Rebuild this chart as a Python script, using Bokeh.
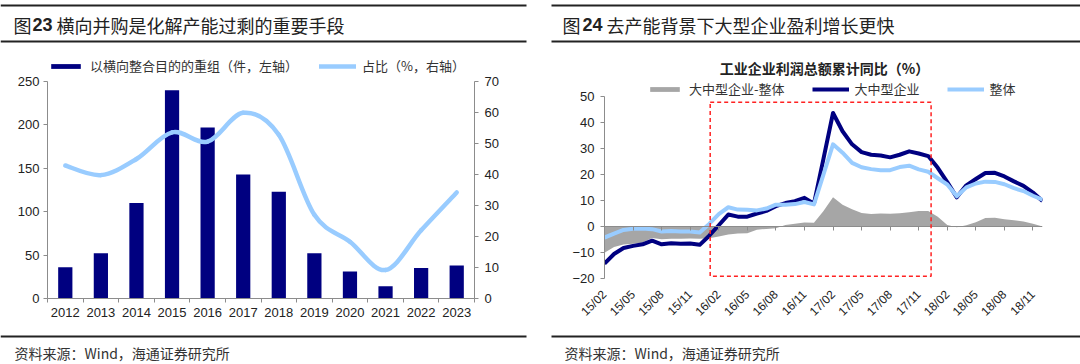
import math
from bokeh.plotting import figure
from bokeh.models import (Range1d, LinearAxis, FixedTicker, Legend, LegendItem,
                          Label, BoxAnnotation)
from bokeh.layouts import row, column
from bokeh.core.properties import value
from bokeh.embed import file_html
from bokeh.resources import INLINE

# ---------------- data: left chart (图23) ----------------
years = ["2012", "2013", "2014", "2015", "2016", "2017",
         "2018", "2019", "2020", "2021", "2022", "2023"]
deals = [36, 52, 110, 240, 197, 143, 123, 52, 31, 14, 35, 38]          # 件, left axis
share = [42.9, 39.8, 45.0, 53.6, 50.6, 59.9, 52.8, 27.0, 18.3, 9.2, 22.0, 34.2]  # %, right axis

# ---------------- data: right chart (图24) ----------------
months = ["15/02", "15/03", "15/04", "15/05", "15/06", "15/07", "15/08", "15/09", "15/10", "15/11", "15/12",
          "16/01", "16/02", "16/03", "16/04", "16/05", "16/06", "16/07", "16/08", "16/09", "16/10", "16/11", "16/12",
          "17/01", "17/02", "17/03", "17/04", "17/05", "17/06", "17/07", "17/08", "17/09", "17/10", "17/11", "17/12",
          "18/01", "18/02", "18/03", "18/04", "18/05", "18/06", "18/07", "18/08", "18/09", "18/10", "18/11", "18/12"]
large_mid = [-14.2, -10.5, -8.2, -7.4, -6.8, -5.4, -6.8, -6.4, -6.6, -6.5, -7.0,
             -3.5, 0.5, 4.6, 3.8, 3.8, 5.0, 6.0, 7.8, 9.0, 9.7, 11.0, 8.8,
             26.0, 43.5, 36.5, 31.5, 28.5, 27.5, 27.2, 26.5, 27.5, 28.8, 28.0, 27.0,
             22.5, 17.0, 11.2, 15.8, 18.2, 20.5, 20.6, 19.2, 17.3, 15.6, 13.0, 9.8]
overall = [-4.2, -2.7, -1.3, -0.8, -0.7, -1.0, -1.9, -1.7, -1.9, -1.9, -2.3,
           1.0, 4.8, 7.4, 6.5, 6.4, 6.2, 6.9, 8.4, 8.4, 8.6, 9.4, 8.5,
           20.0, 31.5, 28.3, 24.4, 22.7, 22.0, 21.6, 21.6, 22.8, 23.3, 21.9, 21.0,
           18.5, 16.1, 11.6, 15.0, 16.5, 17.2, 17.1, 16.2, 14.7, 13.6, 11.8, 10.3]
gap = [-10.0, -7.8, -6.9, -6.6, -6.1, -4.4, -4.9, -4.7, -4.7, -4.6, -4.7,
       -4.5, -3.8, -3.0, -2.7, -2.6, -1.2, -0.9, -0.6, 0.6, 1.1, 1.6, 1.5,
       6.0, 11.2, 8.4, 6.6, 5.2, 4.8, 5.0, 4.9, 5.1, 5.5, 6.0, 6.0,
       3.8, 0.6, -0.3, 0.5, 1.7, 3.3, 3.4, 2.8, 2.4, 1.9, 1.1, 0.0]
highlight = ("16/01", "17/12")

# ---------------- texts ----------------
title_l = ("图", "23", "横向并购是化解产能过剩的重要手段")
title_r = ("图", "24", "去产能背景下大型企业盈利增长更快")
chart_title_r = "工业企业利润总额累计同比（%）"
source = "资料来源：Wind，海通证券研究所"

CJK = "Noto Sans CJK SC"
LAT = "Liberation Sans"
NAVY = "#000080"
LIGHT = "#99CCFF"
GRAY = "#A6A6A6"
AXC = "#8C8C8C"
TXT = "#222222"

# layout geometry (pixels)
CH_H = 284          # chart row height
B_TOP, B_BOT = 4, 32
FRAME_H = CH_H - B_TOP - B_BOT   # 248


def style_axis(ax):
    ax.axis_line_color = AXC
    ax.major_tick_line_color = AXC
    ax.major_tick_out = 4
    ax.major_tick_in = 0
    ax.minor_tick_line_color = None
    ax.major_label_text_font = LAT
    ax.major_label_text_font_size = "13px"
    ax.major_label_text_color = TXT


def legend(items, loc, spacing):
    return Legend(items=items, location=loc, orientation="horizontal", glyph_width=37, glyph_height=6,
                  label_standoff=6, spacing=spacing, padding=0, margin=0, label_height=14,
                  border_line_color=None, background_fill_alpha=0,
                  label_text_font=CJK, label_text_font_size="13px", label_text_color="#333333")


# ================= header =================
hdr = figure(width=1080, height=46, x_range=Range1d(0, 1080), y_range=Range1d(46, 0),
             x_axis_location=None, y_axis_location=None, output_backend="svg",
             toolbar_location=None, min_border=0)
hdr.grid.visible = False
hdr.outline_line_color = None
hdr.segment(x0=[0, 551, 0, 551], x1=[526, 1080, 526, 1080], y0=[5, 5, 41, 41], y1=[5, 5, 41, 41],
            line_width=2, line_color="#222222")
hdr.text(x=[13, 562], y=[24, 24], text=[title_l[0], title_r[0]], text_font=value(CJK),
         text_font_size="18px", text_baseline="middle", text_color=TXT)
hdr.text(x=[32, 582], y=[24, 24], text=[title_l[1], title_r[1]], text_font=value(LAT),
         text_font_style="bold", text_font_size="18px", text_baseline="middle", text_color=TXT)
hdr.text(x=[56, 606], y=[24, 24], text=[title_l[2], title_r[2]], text_font=value(CJK),
         text_font_size="18px", text_baseline="middle", text_color=TXT)

# ================= left chart =================
centers = list(range(1, len(years) + 1))
bounds = [c - 0.5 for c in centers] + [centers[-1] + 0.5]
cnt_max, pct_max = 250, 70
plot_h_l = 217                       # pixels between 0 and 250 on the value axis
top_l = cnt_max * FRAME_H / plot_h_l  # range top so that the legend sits inside the frame

pl = figure(width=540, height=CH_H, x_range=Range1d(bounds[0], bounds[-1]), y_range=Range1d(0, top_l),
            output_backend="svg", toolbar_location=None,
            min_border_left=47, min_border_right=66, min_border_top=B_TOP, min_border_bottom=B_BOT)
pl.extra_y_ranges = {"pct": Range1d(0, pct_max * top_l / cnt_max)}
pl.grid.visible = False
pl.outline_line_color = None

bars = pl.vbar(x=centers, top=deals, width=0.4, fill_color=NAVY, line_color=None)

# smooth (Excel-like) line as cubic Bezier segments through the data points
bx0, by0, bx1, by1, bcx0, bcy0, bcx1, bcy1 = [], [], [], [], [], [], [], []
n = len(centers)
for i in range(n - 1):
    xp, yp = (centers[i - 1], share[i - 1]) if i > 0 else (centers[i], share[i])
    xn, yn = (centers[i + 2], share[i + 2]) if i + 2 < n else (centers[i + 1], share[i + 1])
    bx0.append(centers[i]); by0.append(share[i])
    bx1.append(centers[i + 1]); by1.append(share[i + 1])
    bcx0.append(centers[i] + (centers[i + 1] - xp) / 6); bcy0.append(share[i] + (share[i + 1] - yp) / 6)
    bcx1.append(centers[i + 1] - (xn - centers[i]) / 6); bcy1.append(share[i + 1] - (yn - share[i]) / 6)
curve = pl.bezier(x0=bx0, y0=by0, x1=bx1, y1=by1, cx0=bcx0, cy0=bcy0, cx1=bcx1, cy1=bcy1,
                  line_color=LIGHT, line_width=4.5, line_cap="round", y_range_name="pct")

pl.xaxis.ticker = FixedTicker(ticks=centers, minor_ticks=bounds)
pl.xaxis.major_label_overrides = {c: y for c, y in zip(centers, years)}
style_axis(pl.xaxis[0])
pl.xaxis.major_tick_line_color = None
pl.xaxis.minor_tick_line_color = AXC
pl.xaxis.minor_tick_out = 4
pl.xaxis.minor_tick_in = 0
pl.xaxis.major_label_standoff = 5

pl.yaxis.ticker = FixedTicker(ticks=[0, 50, 100, 150, 200, 250])
pl.yaxis.bounds = (0, cnt_max)
style_axis(pl.yaxis[0])
pl.yaxis.major_label_standoff = 4

ax_r = LinearAxis(y_range_name="pct", ticker=FixedTicker(ticks=[0, 10, 20, 30, 40, 50, 60, 70]),
                  bounds=(0, pct_max))
style_axis(ax_r)
ax_r.major_label_standoff = 6
pl.add_layout(ax_r, "right")

pl.add_layout(legend([LegendItem(label="以横向整合目的的重组（件，左轴）", renderers=[bars]),
                      LegendItem(label="占比（%，右轴）", renderers=[curve])],
                     (0, 223), 21), "center")

# ================= right chart =================
idx = list(range(len(months)))
tick_idx = idx[::3]
y_lo, y_hi = -20, 50
px_per_unit = 182.8 / (y_hi - y_lo)
below_px = 19.7                                   # frame pixels below -20
r_lo = y_lo - below_px / px_per_unit
r_hi = r_lo + FRAME_H / px_per_unit

pr = figure(width=540, height=CH_H, x_range=Range1d(idx[0], idx[-1]), y_range=Range1d(r_lo, r_hi),
            output_backend="svg", toolbar_location=None,
            min_border_left=64, min_border_right=38, min_border_top=B_TOP, min_border_bottom=B_BOT)
pr.grid.visible = False
pr.outline_line_color = None

area = pr.varea(x=idx, y1=0, y2=gap, fill_color=GRAY)
dark = pr.line(x=idx, y=large_mid, line_color=NAVY, line_width=4, line_join="round")
light = pr.line(x=idx, y=overall, line_color=LIGHT, line_width=4, line_join="round")

pr.add_layout(BoxAnnotation(left=months.index(highlight[0]) + 0.1, right=months.index(highlight[1]) + 0.3,
                            top=47.6, bottom=-19.0, fill_color=None, fill_alpha=0,
                            line_color="#FF2222", line_alpha=1.0, line_width=1.5, line_dash="4 3"))

# month labels: hang just below the -20 line (pulled up into the frame area)
pr.xaxis.ticker = FixedTicker(ticks=tick_idx)
pr.xaxis.major_label_overrides = {i: months[i] for i in tick_idx}
pr.xaxis.major_label_orientation = math.pi / 4
pr.xaxis.axis_line_color = None
pr.xaxis.major_tick_line_color = None
pr.xaxis.minor_tick_line_color = None
pr.xaxis.major_tick_out = 0
pr.xaxis.major_tick_in = 0
pr.xaxis.major_label_standoff = -6
pr.xaxis.major_label_text_font = LAT
pr.xaxis.major_label_text_font_size = "12px"
pr.xaxis.major_label_text_color = TXT

zero_ax = LinearAxis(fixed_location=0, ticker=FixedTicker(ticks=tick_idx),
                     major_label_overrides={i: "" for i in tick_idx},
                     major_label_text_font_size="1px", major_label_text_alpha=0,
                     axis_line_color=AXC, major_tick_line_color=AXC,
                     major_tick_in=4, major_tick_out=0, minor_tick_line_color=None)
pr.add_layout(zero_ax, "above")

pr.yaxis.ticker = FixedTicker(ticks=list(range(y_lo, y_hi + 1, 10)))
pr.yaxis.bounds = (y_lo, y_hi)
style_axis(pr.yaxis[0])
pr.yaxis.major_label_standoff = 6

pr.add_layout(Label(x=220, y=231, x_units="screen", y_units="screen", text=chart_title_r,
                    text_align="center", text_baseline="middle", text_font=CJK,
                    text_font_size="14px", text_font_style="bold", text_color=TXT))

pr.add_layout(legend([LegendItem(label="大中型企业-整体", renderers=[area]),
                      LegendItem(label="大中型企业", renderers=[dark]),
                      LegendItem(label="整体", renderers=[light])],
                     (42, 200), 27), "center")

# ================= footer =================
ftr = figure(width=1080, height=34, x_range=Range1d(0, 1080), y_range=Range1d(34, 0),
             x_axis_location=None, y_axis_location=None, output_backend="svg",
             toolbar_location=None, min_border=0)
ftr.grid.visible = False
ftr.outline_line_color = None
ftr.segment(x0=[0, 551], x1=[526, 1080], y0=[6, 6], y1=[6, 6], line_width=2, line_color="#222222")
ftr.text(x=[14, 564], y=[22, 22], text=[source, source], text_font=value(CJK),
         text_font_size="14px", text_baseline="middle", text_color="#333333")

layout = column(hdr, row(pl, pr), ftr)
open("out.html", "w").write(file_html(layout, INLINE))
